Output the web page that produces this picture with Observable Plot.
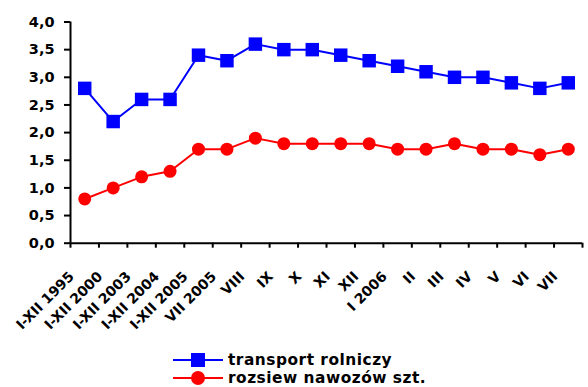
<!DOCTYPE html>
<html>
<head>
<meta charset="utf-8">
<script src="https://cdn.jsdelivr.net/npm/d3@7"></script>
<script src="https://cdn.jsdelivr.net/npm/@observablehq/plot@0.6"></script>
<style>
  html, body { margin: 0; padding: 0; background: #fff; }
  #chart svg { display: block; }
  .legend { font-family: "DejaVu Sans", sans-serif; font-weight: bold; font-size: 15.4px; letter-spacing: 0.5px; color: #000; padding-left: 173px; }
  .legend .row { display: flex; align-items: center; height: 18px; line-height: 18px; white-space: nowrap; }
  .legend svg { display: block; margin-right: 5px; }
</style>
</head>
<body>
<div id="chart"></div>
<div class="legend" id="legend"></div>
<script>
const categories = ["I-XII 1995", "I-XII 2000", "I-XII 2003", "I-XII 2004", "I-XII 2005", "VII 2005", "VIII", "IX", "X", "XI", "XII", "I 2006", "II", "III", "IV", "V", "VI", "VII"];
const transport = [2.8, 2.2, 2.6, 2.6, 3.4, 3.3, 3.6, 3.5, 3.5, 3.4, 3.3, 3.2, 3.1, 3.0, 3.0, 2.9, 2.8, 2.9];
const rozsiew = [0.8, 1.0, 1.2, 1.3, 1.7, 1.7, 1.9, 1.8, 1.8, 1.8, 1.8, 1.7, 1.7, 1.8, 1.7, 1.7, 1.6, 1.7];
const yTicks = [0, 0.5, 1, 1.5, 2, 2.5, 3, 3.5, 4];
const seriesNames = ["transport rolniczy", "rozsiew nawozów szt."];
const seriesColors = ["#0000ff", "#ff0000"];
const seriesSymbols = ["square", "circle"];

const rows = categories.map((c, i) => ({cat: c, pos: i + 0.5, transport: transport[i], rozsiew: rozsiew[i]}));
const boundaries = d3.range(categories.length + 1);

const font = "DejaVu Sans, sans-serif";

const chart = Plot.plot({
  width: 588,
  height: 351,
  marginLeft: 70,
  marginRight: 6,
  marginTop: 21.5,
  marginBottom: 108.3,
  style: {fontFamily: font, fontWeight: "bold", color: "#000", background: "#fff", overflow: "visible"},
  x: {type: "linear", domain: [0, categories.length]},
  y: {domain: [0, 4]},
  marks: [
    Plot.axisY({ticks: yTicks, tickFormat: d => d.toFixed(1).replace(".", ","), tickSize: 6, tickPadding: 10, strokeWidth: 2, fontSize: 14.5, fontWeight: "bold", fill: "#000", stroke: "#000", label: null}),
    Plot.axisX({ticks: boundaries, tickFormat: () => "", tickSize: 5, strokeWidth: 2, stroke: "#000", label: null}),
    Plot.axisX({ticks: rows.map(d => d.pos), tickFormat: v => categories[Math.floor(v)], tickSize: 0, tickPadding: 0, tickRotate: -45, textAnchor: "end", lineAnchor: "middle", dx: -13, dy: 31, fontSize: 14, fontWeight: "bold", fill: "#000", label: null}),
    Plot.ruleX([0], {stroke: "#000", strokeWidth: 2}),
    Plot.ruleY([0], {stroke: "#000", strokeWidth: 2}),
    Plot.line(rows, {x: "pos", y: "transport", stroke: seriesColors[0], strokeWidth: 2}),
    Plot.dot(rows, {x: "pos", y: "transport", symbol: seriesSymbols[0], r: 7.6, fill: seriesColors[0], stroke: "none"}),
    Plot.line(rows, {x: "pos", y: "rozsiew", stroke: seriesColors[1], strokeWidth: 2}),
    Plot.dot(rows, {x: "pos", y: "rozsiew", symbol: seriesSymbols[1], r: 6.5, fill: seriesColors[1], stroke: "none"})
  ]
});
document.getElementById("chart").appendChild(chart);

// legend
const legend = d3.select("#legend");
seriesNames.forEach((name, i) => {
  const row = legend.append("div").attr("class", "row");
  const sw = row.append("svg").attr("width", 50).attr("height", 18);
  sw.append("line").attr("x1", 0).attr("x2", 50).attr("y1", 9).attr("y2", 9).attr("stroke", seriesColors[i]).attr("stroke-width", 2);
  if (seriesSymbols[i] === "square") {
    sw.append("rect").attr("x", 18).attr("y", 2).attr("width", 14).attr("height", 14).attr("fill", seriesColors[i]);
  } else {
    sw.append("circle").attr("cx", 25).attr("cy", 9).attr("r", 7).attr("fill", seriesColors[i]);
  }
  row.append("span").text(name);
});
</script>
</body>
</html>
